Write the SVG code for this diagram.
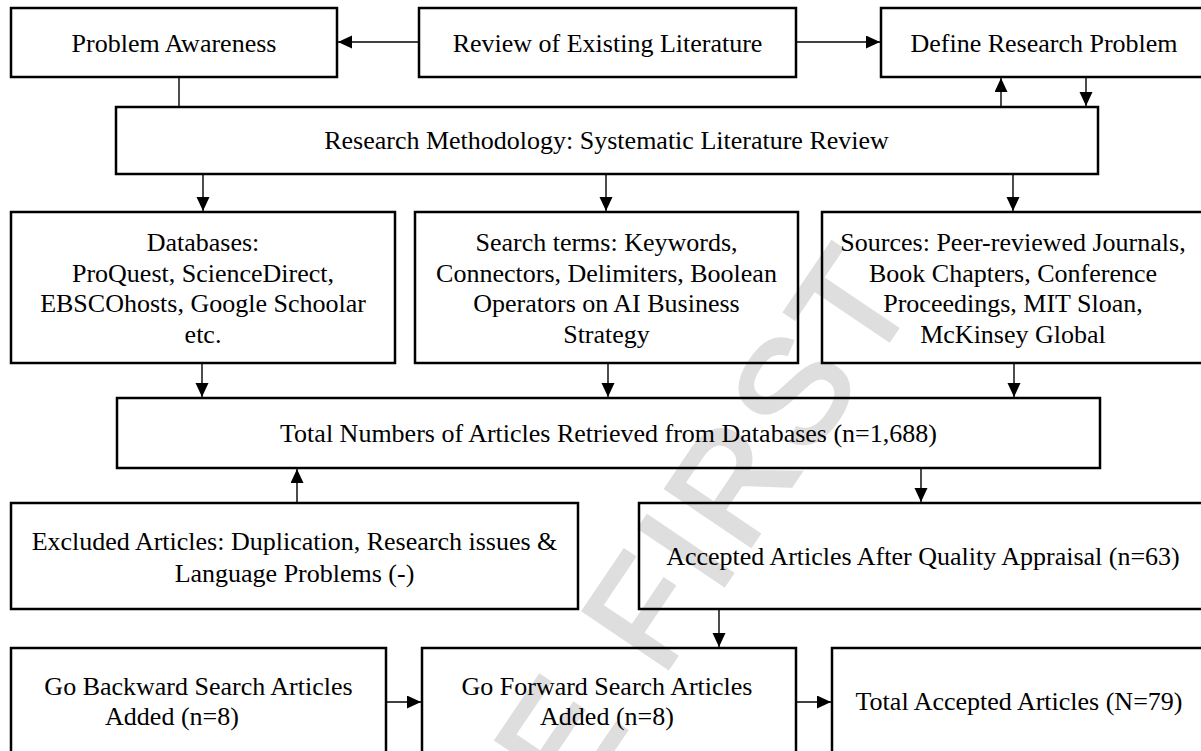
<svg xmlns="http://www.w3.org/2000/svg" width="1201" height="751" viewBox="0 0 1201 751">
<defs>
<style>
.box{fill:none;stroke:#000;stroke-width:2.5}
.t{font-family:"Liberation Serif","Times New Roman",serif;font-size:26px;fill:#000;text-anchor:middle}
.c{fill:none;stroke:#000;stroke-width:1.4}
.wm{font-family:"Liberation Sans",Arial,sans-serif;font-size:148px;letter-spacing:8px;fill:#dedede;stroke:#dedede;stroke-width:4;text-anchor:middle}
</style>
<marker id="ah" markerUnits="userSpaceOnUse" markerWidth="15" markerHeight="14" refX="14" refY="6.5" orient="auto">
<path d="M0,0 L14,6.5 L0,13 z" fill="#000"/>
</marker>
</defs>
<rect width="1201" height="751" fill="#fff"/>
<g id="watermark"><text class="wm" transform="translate(567,723) rotate(-56)" x="0" y="53">ONLINE FIRST</text></g>

<g id="connectors">
<line class="c" x1="419" y1="42" x2="338" y2="42" marker-end="url(#ah)"/>
<line class="c" x1="796" y1="42" x2="880" y2="42" marker-end="url(#ah)"/>
<line class="c" x1="179" y1="77" x2="179" y2="107"/>
<line class="c" x1="1001" y1="107" x2="1001" y2="78" marker-end="url(#ah)"/>
<line class="c" x1="1086" y1="77" x2="1086" y2="106" marker-end="url(#ah)"/>
<line class="c" x1="203" y1="174" x2="203" y2="211" marker-end="url(#ah)"/>
<line class="c" x1="606" y1="174" x2="606" y2="211" marker-end="url(#ah)"/>
<line class="c" x1="1013" y1="174" x2="1013" y2="211" marker-end="url(#ah)"/>
<line class="c" x1="202" y1="363" x2="202" y2="397" marker-end="url(#ah)"/>
<line class="c" x1="608" y1="363" x2="608" y2="397" marker-end="url(#ah)"/>
<line class="c" x1="1014" y1="363" x2="1014" y2="397" marker-end="url(#ah)"/>
<line class="c" x1="297" y1="503" x2="297" y2="469" marker-end="url(#ah)"/>
<line class="c" x1="921" y1="468" x2="921" y2="502" marker-end="url(#ah)"/>
<line class="c" x1="719" y1="609" x2="719" y2="647" marker-end="url(#ah)"/>
<line class="c" x1="386" y1="702" x2="421" y2="702" marker-end="url(#ah)"/>
<line class="c" x1="796" y1="702" x2="831" y2="702" marker-end="url(#ah)"/>
</g>

<g id="problem-awareness"><rect class="box" x="11" y="8" width="326" height="69"/><text class="t" x="174" y="52">Problem Awareness</text></g>
<g id="review-literature"><rect class="box" x="419" y="8" width="377" height="69"/><text class="t" x="607.5" y="52">Review of Existing Literature</text></g>
<g id="define-problem"><rect class="box" x="881" y="8" width="330" height="69"/><text class="t" x="1044" y="52">Define Research Problem</text></g>
<g id="methodology"><rect class="box" x="116" y="107" width="982" height="67"/><text class="t" x="606.5" y="149">Research Methodology: Systematic Literature Review</text></g>

<g id="databases"><rect class="box" x="11" y="212" width="384" height="151"/>
<text class="t" x="203" y="251">Databases:</text>
<text class="t" x="203" y="282">ProQuest, ScienceDirect,</text>
<text class="t" x="203" y="312">EBSCOhosts, Google Schoolar</text>
<text class="t" x="203" y="343">etc.</text></g>
<g id="search-terms"><rect class="box" x="415" y="212" width="383" height="151"/>
<text class="t" x="606.5" y="251">Search terms: Keywords,</text>
<text class="t" x="606.5" y="282">Connectors, Delimiters, Boolean</text>
<text class="t" x="606.5" y="312">Operators on AI Business</text>
<text class="t" x="606.5" y="343">Strategy</text></g>
<g id="sources"><rect class="box" x="822" y="212" width="390" height="151"/>
<text class="t" x="1013" y="251">Sources: Peer-reviewed Journals,</text>
<text class="t" x="1013" y="282">Book Chapters, Conference</text>
<text class="t" x="1013" y="312">Proceedings, MIT Sloan,</text>
<text class="t" x="1013" y="343">McKinsey Global</text></g>

<g id="total-retrieved"><rect class="box" x="117" y="398" width="983" height="70"/><text class="t" x="608.5" y="442">Total Numbers of Articles Retrieved from Databases (n=1,688)</text></g>
<g id="excluded"><rect class="box" x="11" y="503" width="567" height="106"/>
<text class="t" x="294.5" y="550">Excluded Articles: Duplication, Research issues &amp;</text>
<text class="t" x="294.5" y="582">Language Problems (-)</text></g>
<g id="accepted"><rect class="box" x="639" y="503" width="572" height="106"/><text class="t" x="923" y="565">Accepted Articles After Quality Appraisal (n=63)</text></g>

<g id="backward"><rect class="box" x="11" y="648" width="375" height="112"/>
<text class="t" x="198.5" y="695">Go Backward Search Articles</text>
<text class="t" x="172" y="725">Added (n=8)</text></g>
<g id="forward"><rect class="box" x="422" y="648" width="374" height="112"/>
<text class="t" x="607" y="695">Go Forward Search Articles</text>
<text class="t" x="607" y="725">Added (n=8)</text></g>
<g id="total-accepted"><rect class="box" x="832" y="648" width="380" height="112"/><text class="t" x="1019" y="710">Total Accepted Articles (N=79)</text></g>
</svg>
